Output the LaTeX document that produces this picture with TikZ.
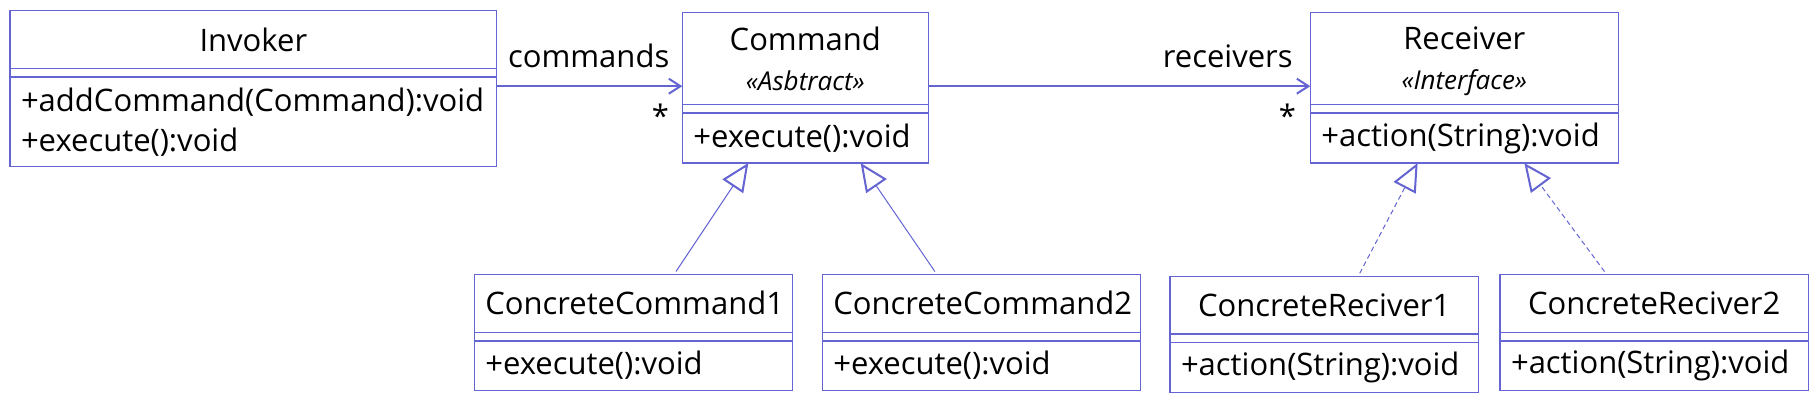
\documentclass[tikz,border=0pt]{standalone}
\usepackage{fontspec}
\setmainfont{Open Sans}
\usepackage{tikz}
\usetikzlibrary{positioning}
\usetikzlibrary{arrows.meta}
\definecolor{umlblue}{RGB}{100,100,210}
\tikzset{
class_title/.style={rectangle, draw=umlblue, line width=0.4pt, fill=white, text width=#1, align=center, inner xsep=3.3pt, inner ysep=0pt, outer sep=0pt},
class_attr/.style={rectangle, draw=umlblue, line width=0.4pt, fill=white, text width=#1, inner xsep=3.3pt, inner ysep=0pt, outer sep=0pt, minimum height=2.6pt},
class_ops/.style={rectangle, draw=umlblue, line width=0.4pt, fill=white, text width=#1, align=left, inner xsep=3.3pt, inner ysep=0pt, outer sep=0pt},
assoc/.style={draw=umlblue, line width=0.6pt, -{Straight Barb[length=3.5pt,width=4.5pt]}},
inherit/.style={draw=umlblue, line width=0.3pt, shorten <=1pt, -{Triangle[open,length=8.4pt,width=7.4pt,line width=0.6pt,fill=white]}},
realize/.style={inherit, dash pattern=on 1.5pt off 1pt},
edge_label/.style={inner sep=0pt, anchor=base east}
}
\newcommand{\stereo}[1]{{\fontsize{7.8}{9}\selectfont\itshape\raisebox{0pt}[\height][0pt]{«#1»}}}

\begin{document}
\begin{tikzpicture}[x=0.3pt, y=-0.3pt, node distance=0pt, font=\fontsize{9.3}{12}\selectfont]
    \useasboundingbox (0,0) rectangle (1816,401);
    % top row
    \node[class_title=139.4pt, minimum height=17.3pt, anchor=north west] (invoker) at (10,10.7) {Invoker};
    \node[class_attr=139.4pt] (invoker_attr) [below=0 of invoker] {};
    \node[class_ops=139.4pt, minimum height=26.8pt] (invoker_ops) [below=0 of invoker_attr] {+addCommand(Command):void\\+execute():void};

    \node[class_title=67.2pt, minimum height=27.5pt, anchor=north west] (command) at (682.3,12.7) {Command\\\stereo{Asbtract}};
    \node[class_attr=67.2pt] (command_attr) [below=0 of command] {};
    \node[class_ops=67.2pt, minimum height=15pt] (command_ops) [below=0 of command_attr] {+execute():void};

    \node[class_title=85.8pt, minimum height=27.5pt, anchor=north west] (receiver) at (1310.3,12.7) {Receiver\\\stereo{Interface}};
    \node[class_attr=85.8pt] (receiver_attr) [below=0 of receiver] {};
    \node[class_ops=85.8pt, minimum height=15pt] (receiver_ops) [below=0 of receiver_attr] {+action(String):void};

    % bottom row
    \node[class_title=88.9pt, minimum height=17.4pt, anchor=north west] (cc1) at (474.3,274.3) {ConcreteCommand1};
    \node[class_attr=88.9pt] (cc1_attr) [below=0 of cc1] {};
    \node[class_ops=88.9pt, minimum height=14.8pt] (cc1_ops) [below=0 of cc1_attr] {+execute():void};

    \node[class_title=88.9pt, minimum height=17.4pt, anchor=north west] (cc2) at (822.3,274.3) {ConcreteCommand2};
    \node[class_attr=88.9pt] (cc2_attr) [below=0 of cc2] {};
    \node[class_ops=88.9pt, minimum height=14.8pt] (cc2_ops) [below=0 of cc2_attr] {+execute():void};

    \node[class_title=85.9pt, minimum height=17.3pt, anchor=north west] (cr1) at (1170,276.3) {ConcreteReciver1};
    \node[class_attr=85.9pt] (cr1_attr) [below=0 of cr1] {};
    \node[class_ops=85.9pt, minimum height=14.9pt] (cr1_ops) [below=0 of cr1_attr] {+action(String):void};

    \node[class_title=85.9pt, minimum height=17.4pt, anchor=north west] (cr2) at (1500,274.3) {ConcreteReciver2};
    \node[class_attr=85.9pt] (cr2_attr) [below=0 of cr2] {};
    \node[class_ops=85.9pt, minimum height=14.8pt] (cr2_ops) [below=0 of cr2_attr] {+action(String):void};

    % associations
    \coordinate (cmd_in) at ([yshift=-8.3pt]command.west);
    \coordinate (recv_in) at ([yshift=-8.3pt]receiver.west);
    \draw[assoc] (invoker_ops.east |- cmd_in) -- (cmd_in)
        node[edge_label, at end, shift={(-3.6pt,5.6pt)}] {commands}
        node[edge_label, at end, shift={(-3.7pt,-12.5pt)}] {*};
    \draw[assoc] (cmd_in -| command.east) -- (recv_in)
        node[edge_label, at end, shift={(-5pt,5.6pt)}] {receivers}
        node[edge_label, at end, shift={(-4pt,-12.5pt)}] {*};

    % generalization / realization
    \draw[inherit] ([xshift=12.2pt]cc1.north) -- ([xshift=-17.1pt]command_ops.south);
    \draw[inherit] ([xshift=-13.4pt]cc2.north) -- ([xshift=16.6pt]command_ops.south);
    \draw[realize] ([xshift=10.2pt]cr1.north) -- ([xshift=-14pt]receiver_ops.south);
    \draw[realize] ([xshift=-14.3pt]cr2.north) -- ([xshift=18pt]receiver_ops.south);
\end{tikzpicture}
\end{document}
